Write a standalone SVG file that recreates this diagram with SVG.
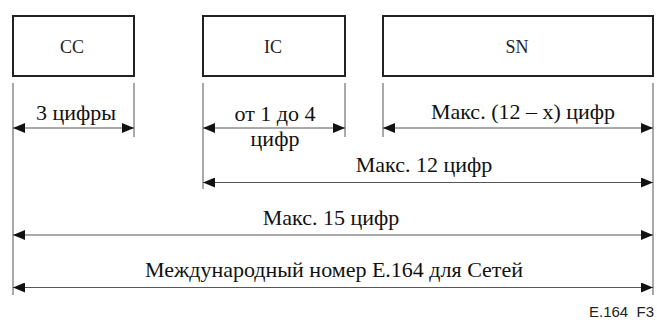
<svg xmlns="http://www.w3.org/2000/svg" width="657" height="320" viewBox="0 0 657 320">
<style>
.box{fill:#fff;stroke:#222;stroke-width:2}
.t{font-family:"Liberation Serif","Times New Roman",serif;font-size:22px;fill:#111}
.tb{font-family:"Liberation Serif","Times New Roman",serif;font-size:18px;fill:#222}
.ext{stroke:#555;stroke-width:1;fill:none}
.dim{stroke:#555;stroke-width:1;fill:none;marker-start:url(#a);marker-end:url(#a)}
.lbl{font-family:"Liberation Sans",Arial,sans-serif;font-size:15px;fill:#222;white-space:pre}
</style>
<defs>
<marker id="a" viewBox="0 0 12 10" refX="12" refY="5" markerWidth="12" markerHeight="10" markerUnits="userSpaceOnUse" orient="auto-start-reverse">
<path d="M0,0 L12,5 L0,10 Z" fill="#111"/>
</marker>
</defs>
<g id="cc"><rect class="box" x="13" y="16" width="121" height="60"/><text class="tb" x="72" y="53" text-anchor="middle">CC</text></g>
<g id="ic"><rect class="box" x="203" y="16" width="142" height="60"/><text class="tb" x="273" y="53" text-anchor="middle">IC</text></g>
<g id="sn"><rect class="box" x="383" y="16" width="270" height="60"/><text class="tb" x="517" y="53" text-anchor="middle">SN</text></g>
<g id="connectors">
<line class="ext" x1="13" y1="83" x2="13" y2="295"/>
<line class="ext" x1="134" y1="83" x2="134" y2="137"/>
<line class="ext" x1="203" y1="83" x2="203" y2="189"/>
<line class="ext" x1="345" y1="83" x2="345" y2="137"/>
<line class="ext" x1="383" y1="83" x2="383" y2="137"/>
<line class="ext" x1="653" y1="83" x2="653" y2="295"/>
<line class="dim" x1="13" y1="128" x2="134" y2="128"/>
<line class="dim" x1="203" y1="128" x2="345" y2="128"/>
<line class="dim" x1="383" y1="128" x2="653" y2="128"/>
<line class="dim" x1="203" y1="182.5" x2="653" y2="182.5"/>
<line class="dim" x1="13" y1="235" x2="653" y2="235"/>
<line class="dim" x1="13" y1="287.5" x2="653" y2="287.5"/>
</g>
<g id="labels">
<text class="t" x="76" y="120" text-anchor="middle">3 цифры</text>
<text class="t" x="275" y="121" text-anchor="middle">от 1 до 4</text>
<text class="t" x="275" y="146" text-anchor="middle">цифр</text>
<text class="t" x="523" y="119" text-anchor="middle">Макс. (12 – x) цифр</text>
<text class="t" x="424" y="172" text-anchor="middle">Макс. 12 цифр</text>
<text class="t" x="331" y="225" text-anchor="middle">Макс. 15 цифр</text>
<text class="t" x="334" y="277" text-anchor="middle">Международный номер E.164 для Сетей</text>
<text class="lbl" x="589" y="317">E.164  F3</text>
</g>
</svg>
